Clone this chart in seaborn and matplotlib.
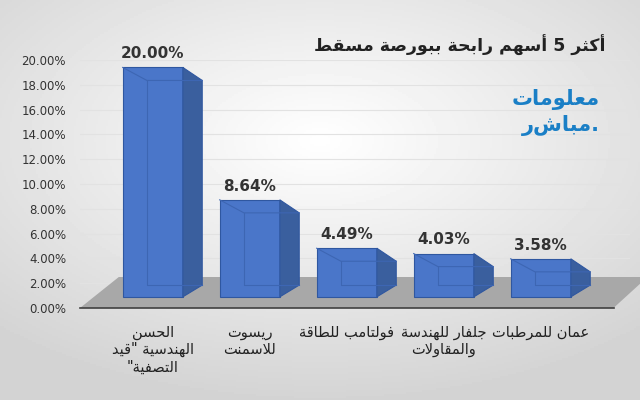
import matplotlib
matplotlib.use("Agg")
import matplotlib.pyplot as plt
import seaborn as sns
import pandas as pd
import numpy as np
from matplotlib.patches import Polygon

title = "أكثر 5 أسهم رابحة ببورصة مسقط"
categories = ["الحسن\nالهندسية \"قيد\nالتصفية\"", "ريسوت\nللاسمنت", "فولتامب للطاقة",
              "جلفار للهندسة\nوالمقاولات", "عمان للمرطبات"]
values = [20.00, 8.64, 4.49, 4.03, 3.58]
value_labels = ["20.00%", "8.64%", "4.49%", "4.03%", "3.58%"]
yticks = [0, 2, 4, 6, 8, 10, 12, 14, 16, 18, 20]
logo = ["معلومات", "مباشر"]

F = {'ا':(0xFE8D,0xFE8E,None,None),'أ':(0xFE83,0xFE84,None,None),'ب':(0xFE8F,0xFE90,0xFE91,0xFE92),
'ت':(0xFE95,0xFE96,0xFE97,0xFE98),'ة':(0xFE93,0xFE94,None,None),'ث':(0xFE99,0xFE9A,0xFE9B,0xFE9C),
'ج':(0xFE9D,0xFE9E,0xFE9F,0xFEA0),'ح':(0xFEA1,0xFEA2,0xFEA3,0xFEA4),'د':(0xFEA9,0xFEAA,None,None),
'ر':(0xFEAD,0xFEAE,None,None),'س':(0xFEB1,0xFEB2,0xFEB3,0xFEB4),'ص':(0xFEB9,0xFEBA,0xFEBB,0xFEBC),
'ط':(0xFEC1,0xFEC2,0xFEC3,0xFEC4),'ع':(0xFEC9,0xFECA,0xFECB,0xFECC),'ف':(0xFED1,0xFED2,0xFED3,0xFED4),
'ق':(0xFED5,0xFED6,0xFED7,0xFED8),'ك':(0xFED9,0xFEDA,0xFEDB,0xFEDC),'ل':(0xFEDD,0xFEDE,0xFEDF,0xFEE0),
'م':(0xFEE1,0xFEE2,0xFEE3,0xFEE4),'ن':(0xFEE5,0xFEE6,0xFEE7,0xFEE8),'ه':(0xFEE9,0xFEEA,0xFEEB,0xFEEC),
'و':(0xFEED,0xFEEE,None,None),'ي':(0xFEF1,0xFEF2,0xFEF3,0xFEF4),
'ﻻ':(0xFEFB,0xFEFC,None,None)}

def shape_line(s):
    s = s.replace('لا', 'ﻻ')
    out = []
    for i, c in enumerate(s):
        if c not in F:
            out.append(c); continue
        p = s[i-1] if i > 0 else ''
        n = s[i+1] if i+1 < len(s) else ''
        jp = p in F and F[p][2] is not None
        jn = F[c][2] is not None and n in F
        iso, fin, ini, med = F[c]
        g = med if (jp and jn) else fin if jp else ini if jn else iso
        out.append(chr(g))
    return ''.join(out)[::-1]

def ar(s):
    return "\n".join(shape_line(l) for l in s.split("\n"))

plt.rcParams['font.family'] = ['DejaVu Sans']
fig = plt.figure(figsize=(6.4, 4.0), dpi=100)

bg = fig.add_axes([0, 0, 1, 1], zorder=-10)
yy, xx = np.mgrid[-1:1:200j, -1:1:320j]
r = np.sqrt(xx**2 * 0.8 + (yy + 0.3)**2)
bg.imshow(1 - 0.13 * np.clip(r, 0, 1.3), cmap='gray', vmin=0, vmax=1, aspect='auto', extent=[0, 1, 0, 1])
bg.axis('off')

ax = fig.add_axes([80/640, 92/400, 550/640, 248/400])
ax.set_facecolor('none')

base = 0.9
front = [v * 0.94 + 0.6 for v in values]
df = pd.DataFrame({"cat": [str(i) for i in range(5)], "val": [f - base for f in front]})
sns.barplot(data=df, x="cat", y="val", color="#4a76c9", width=0.62, ax=ax,
            edgecolor="#2f57a0", linewidth=0.8, saturation=1, zorder=3, bottom=base)

dx, dyt, dyb = 0.2, 1.05, 0.95
ax.add_patch(Polygon([(-0.75, 0.0), (4.75, 0.0), (5.1, 2.5), (-0.35, 2.5)],
                     closed=True, facecolor='#a8a8a8', edgecolor='none', zorder=1, clip_on=False))
ax.plot([-0.75, 4.75], [0, 0], color='#404040', lw=1.2, zorder=2, clip_on=False)
for p in ax.patches[:5]:
    x0 = p.get_x(); w = p.get_width(); top = p.get_y() + p.get_height(); b = p.get_y()
    ax.add_patch(Polygon([(x0 + w, top), (x0 + w + dx, top - dyt), (x0 + w + dx, b + dyb), (x0 + w, b)],
                         facecolor='#3a5f9e', edgecolor='#2f57a0', lw=0.8, zorder=4, clip_on=False))
    ax.plot([x0 + dx*1.25, x0 + dx*1.25, x0 + w + dx], [top - dyt, b + dyb, b + dyb],
            color='#3d66b3', lw=0.8, zorder=5, clip_on=False)
    ax.plot([x0, x0 + dx*1.25, x0 + w + dx], [top, top - dyt, top - dyt],
            color='#3d66b3', lw=0.8, zorder=5, clip_on=False)
for i, (f, t) in enumerate(zip(front, value_labels)):
    ax.text(i, f + 0.5, t, ha='center', va='bottom', fontsize=11, fontweight='bold', color='#333333')

ax.set_xlim(-0.75, 4.92)
ax.set_ylim(0, 20)
ax.set_yticks(yticks)
ax.set_yticklabels([f"{t:.2f}%" for t in yticks], fontsize=8.5, color='#333333')
ax.set_xticks(range(5))
ax.set_xticklabels([ar(c) for c in categories], fontsize=10.5, color='#222222')
ax.tick_params(axis='x', length=0, pad=12)
ax.tick_params(axis='y', length=0, pad=10)
ax.set_xlabel(""); ax.set_ylabel("")
for s in ax.spines.values():
    s.set_visible(False)
ax.grid(axis='y', color='#e2e2e2', lw=0.8, zorder=0)
ax.set_axisbelow(True)

fig.text(605/640, 1 - 45/400, ar(title), ha='right', va='center', fontsize=12.5, fontweight='bold', color='#222222')
fig.text(600/640, 1 - 100/400, ar(logo[0]), ha='right', va='center', fontsize=15, fontweight='bold', color='#1a7fc6')
fig.text(600/640, 1 - 125/400, ar(logo[1]) + ".", ha='right', va='center', fontsize=15, fontweight='bold', color='#1a7fc6')

fig.savefig("out.png", dpi=100)
